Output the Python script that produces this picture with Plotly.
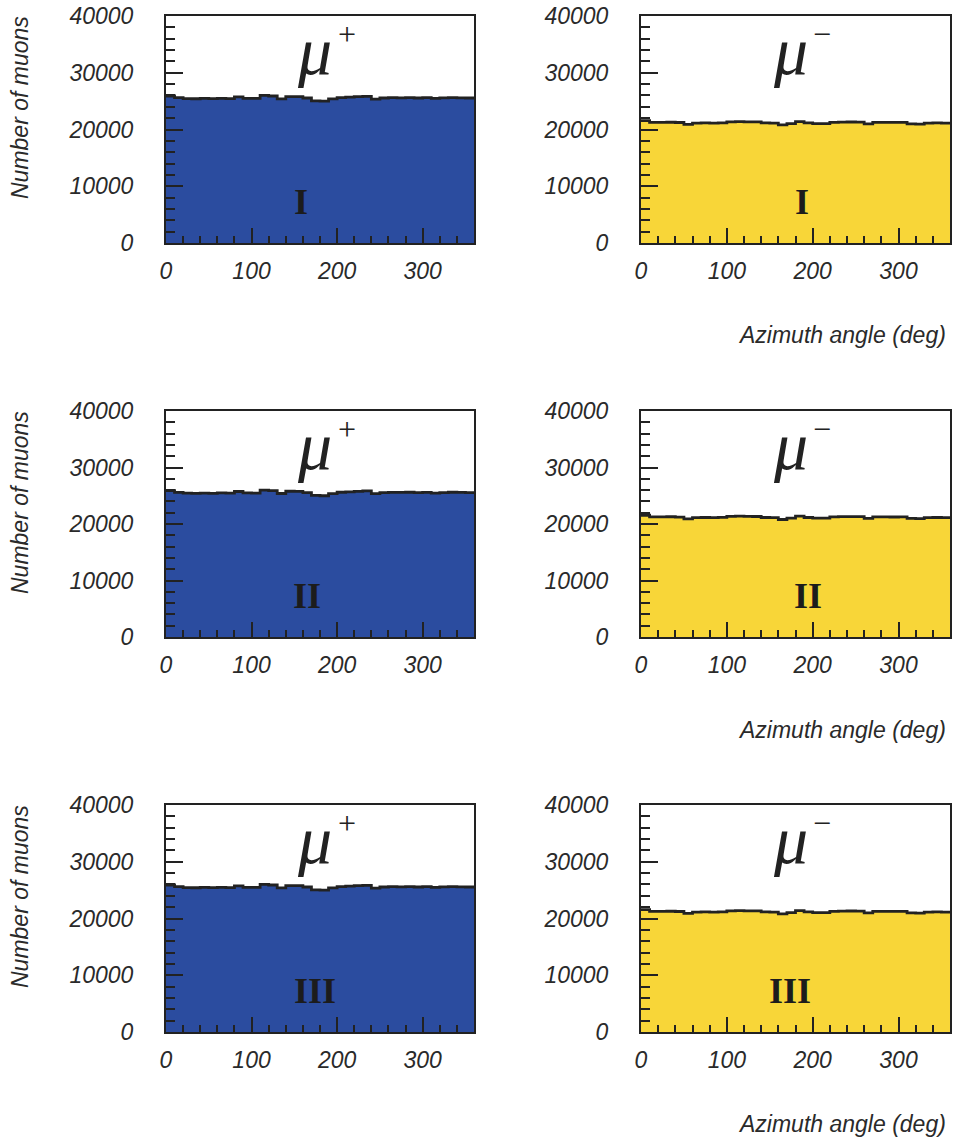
import plotly.graph_objects as go

# ---------------- data ----------------
bin_edges = list(range(0, 361, 10))  # azimuth angle (deg), 36 bins of 10 deg

mu_plus_counts = [25900, 25600, 25450, 25420, 25480, 25430, 25500, 25450, 25750, 25500,
                  25480, 26000, 25900, 25400, 25800, 25780, 25550, 25050, 25000, 25380,
                  25620, 25700, 25780, 25850, 25370, 25550, 25600, 25580, 25620, 25550,
                  25600, 25480, 25560, 25620, 25580, 25550]

mu_minus_counts = [21550, 21250, 21250, 21280, 21230, 20900, 21120, 21150, 21130, 21160,
                   21350, 21380, 21360, 21330, 21150, 21120, 20800, 21030, 21380, 21150,
                   21030, 21040, 21250, 21300, 21320, 21290, 21000, 21250, 21270, 21240,
                   21260, 21000, 20950, 21130, 21150, 21140]

row_labels = ["I", "II", "III"]
charge_labels = ["+", "−"]
x_ticks = [0, 100, 200, 300]
y_ticks = [0, 10000, 20000, 30000, 40000]
y_tick_text = ["0", "10000", "20000", "30000", "40000"]

# ---------------- styling ----------------
W, H = 958, 1144
INK = "#222222"
TXT = "#2a2a2a"
BLUE = "#2b4c9f"
YELLOW = "#f8d638"
FONT = "Liberation Sans"
SERIF = "Liberation Serif"

col_px = [(166, 474), (641, 950)]
row_px = [(16, 243), (411, 637), (805, 1032)]

def xd(a, b):
    return [a / W, b / W]

def yd(top, bot):
    return [1 - bot / H, 1 - top / H]

fig = go.Figure()
layout = dict(width=W, height=H, margin=dict(l=0, r=0, t=0, b=0, autoexpand=False),
              paper_bgcolor="white", plot_bgcolor="white", showlegend=False)
annotations = []

numeral_x = [[158, 188], [165, 195], [174, 174]]

k = 0
for r in range(3):
    for c in range(2):
        k += 1
        sx = "" if k == 1 else str(k)
        counts = mu_plus_counts if c == 0 else mu_minus_counts
        fill = BLUE if c == 0 else YELLOW
        fig.add_trace(go.Scatter(
            x=bin_edges, y=counts + [counts[-1]],
            mode="lines", line=dict(shape="hv", color=INK, width=2.8),
            fill="tozeroy", fillcolor=fill,
            xaxis="x" + sx, yaxis="y" + sx, hoverinfo="skip"))
        tickfont = dict(family=FONT, size=23, color=TXT, style="italic")
        layout["xaxis" + sx] = dict(
            domain=xd(*col_px[c]), anchor="y" + sx, range=[0, 360], automargin=False,
            showgrid=False, zeroline=False, showline=True, mirror=True,
            linecolor=INK, linewidth=2,
            ticks="inside", ticklen=15, tickwidth=2, tickcolor=INK,
            tickvals=x_ticks, tickfont=tickfont, ticklabelstandoff=6,
            minor=dict(ticks="inside", ticklen=7, tickwidth=1.6, tickcolor=INK, dtick=20, tick0=0, showgrid=False))
        layout["yaxis" + sx] = dict(
            domain=yd(*row_px[r]), anchor="x" + sx, range=[0, 40000], automargin=False,
            showgrid=False, zeroline=False, showline=True, mirror=True,
            linecolor=INK, linewidth=2,
            ticks="inside", ticklen=17, tickwidth=2, tickcolor=INK,
            tickvals=y_ticks, ticktext=y_tick_text, tickfont=tickfont, ticklabelstandoff=26,
            minor=dict(ticks="inside", ticklen=9, tickwidth=1.6, tickcolor=INK, dtick=2000, tick0=0, showgrid=False))
        # mu label
        annotations.append(dict(x=174, y=33800, xref="x" + sx, yref="y" + sx, text="μ",
                                showarrow=False, font=dict(family=SERIF, size=68, color=INK, style="italic"),
                                xanchor="center", yanchor="middle"))
        annotations.append(dict(x=211, y=36900, xref="x" + sx, yref="y" + sx, text=charge_labels[c],
                                showarrow=False, font=dict(family=SERIF, size=32, color=INK),
                                xanchor="center", yanchor="middle"))
        annotations.append(dict(x=numeral_x[r][c], y=7300, xref="x" + sx, yref="y" + sx, text=row_labels[r],
                                showarrow=False, font=dict(family=SERIF, size=36, color="#1c1c1c", weight="bold"),
                                xanchor="center", yanchor="middle"))
    # axis titles
    annotations.append(dict(x=20 / W, y=1 - [108, 503, 897][r] / H, xref="paper", yref="paper",
                            text="Number of muons", textangle=-90, showarrow=False,
                            font=dict(family=FONT, size=23, color=TXT, style="italic"),
                            xanchor="center", yanchor="middle"))
    annotations.append(dict(x=948 / W, y=1 - [335, 730, 1124][r] / H, xref="paper", yref="paper",
                            text="Azimuth angle (deg)", showarrow=False,
                            font=dict(family=FONT, size=23, color=TXT, style="italic"),
                            xanchor="right", yanchor="middle"))

layout["annotations"] = annotations
fig.update_layout(**layout)
fig.write_html("out.html", post_script="document.body.style.margin='0px';")
